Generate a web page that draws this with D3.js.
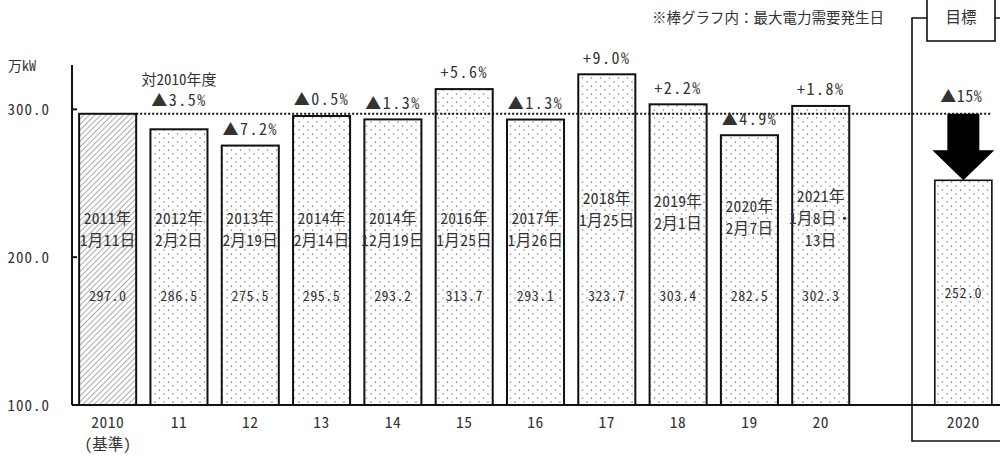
<!DOCTYPE html>
<html><head><meta charset="utf-8">
<script src="https://cdn.jsdelivr.net/npm/d3@7"></script>
<style>
html,body{margin:0;padding:0;background:#fff;}
svg text{font-family:"Noto Sans Mono CJK JP","Noto Sans CJK JP",sans-serif;fill:#333;}
</style></head>
<body>
<svg id="c" width="1000" height="457"></svg>
<script>
// ---- data ----
const categories = ["2010","11","12","13","14","15","16","17","18","19","20"];
const values = [297.0,286.5,275.5,295.5,293.2,313.7,293.1,323.7,303.4,282.5,302.3];
const changeLabels = ["","▲3.5%","▲7.2%","▲0.5%","▲1.3%","+5.6%","▲1.3%","+9.0%","+2.2%","▲4.9%","+1.8%"];
const peakDates = [
  ["2011年","1月11日"],["2012年","2月2日"],["2013年","2月19日"],["2014年","2月14日"],
  ["2014年","12月19日"],["2016年","1月25日"],["2017年","1月26日"],["2018年","1月25日"],
  ["2019年","2月1日"],["2020年","2月7日"],["2021年","1月8日・","13日"]
];
const targetCategory = "2020";
const targetValue = 252.0;
const targetChange = "▲15%";
const baseValue = 297.0;
const yTicks = [100, 200, 300];

// ---- layout ----
const svg = d3.select("#c");
const slots = categories.map((c,i)=>"k"+i).concat(["gap","target"]);
const x = d3.scaleBand().domain(slots).range([72, 999]).paddingInner(0.2).paddingOuter(0.1);
const y = d3.scaleLinear().domain([100, 330]).range([405, 65]);

const defs = svg.append("defs");
const dots = defs.append("pattern").attr("id","dots").attr("patternUnits","userSpaceOnUse")
  .attr("width",9).attr("height",8);
dots.append("rect").attr("width",9).attr("height",8).attr("fill","#fff");
dots.append("circle").attr("cx",2).attr("cy",2).attr("r",0.75).attr("fill","#777");
dots.append("circle").attr("cx",6.5).attr("cy",6).attr("r",0.75).attr("fill","#777");
const hatch = defs.append("pattern").attr("id","hatch").attr("patternUnits","userSpaceOnUse")
  .attr("width",4).attr("height",4).attr("patternTransform","rotate(45)");
hatch.append("rect").attr("width",4).attr("height",4).attr("fill","#fff");
hatch.append("line").attr("x1",0).attr("y1",0).attr("x2",0).attr("y2",4).attr("stroke","#666").attr("stroke-width",1.1);

// bars
const barData = categories.map((c,i)=>({key:"k"+i, cat:c, v:values[i], ch:changeLabels[i], dates:peakDates[i], i}));
svg.selectAll("rect.bar").data(barData).join("rect").attr("class","bar")
  .attr("x",d=>x(d.key)).attr("width",x.bandwidth())
  .attr("y",d=>y(d.v)).attr("height",d=>y(100)-y(d.v))
  .attr("fill",d=>d.i===0?"url(#hatch)":"url(#dots)")
  .attr("stroke","#111").attr("stroke-width",2);

// target bar
svg.append("rect").attr("x",x("target")).attr("width",x.bandwidth())
  .attr("y",y(targetValue)).attr("height",y(100)-y(targetValue))
  .attr("fill","url(#dots)").attr("stroke","#111").attr("stroke-width",1.6);

// base dotted line
svg.append("line").attr("x1",x("k0")+x.bandwidth()).attr("x2",992)
  .attr("y1",y(baseValue)).attr("y2",y(baseValue))
  .attr("stroke","#111").attr("stroke-width",2).attr("stroke-dasharray","2,2");

// axes
const yAxis = svg.append("g").attr("transform","translate(72,0)");
yAxis.append("line").attr("x1",0).attr("x2",0).attr("y1",65).attr("y2",y(100)).attr("stroke","#111").attr("stroke-width",2);
yAxis.selectAll("line.t").data(yTicks).join("line").attr("class","t")
  .attr("x1",0).attr("x2",5).attr("y1",d=>y(d)).attr("y2",d=>y(d)).attr("stroke","#111").attr("stroke-width",2);
yAxis.selectAll("text").data(yTicks).join("text")
  .attr("x",-22).attr("y",d=>y(d)+2).attr("text-anchor","end").attr("dominant-baseline","middle")
  .attr("font-size",15).attr("letter-spacing",1).text(d=>d3.format(".1f")(d));
svg.append("text").attr("x",8).attr("y",67).attr("dominant-baseline","middle").attr("font-size",14).text("万kW");

svg.append("line").attr("x1",72).attr("x2",1000).attr("y1",y(100)).attr("y2",y(100)).attr("stroke","#111").attr("stroke-width",2);

// x labels
svg.selectAll("text.xl").data(barData).join("text").attr("class","xl")
  .attr("x",d=>x(d.key)+x.bandwidth()/2).attr("y",424).attr("text-anchor","middle")
  .attr("dominant-baseline","middle").attr("font-size",15.5).attr("letter-spacing",0.5).text(d=>d.cat);
svg.append("text").attr("x",x("k0")+x.bandwidth()/2).attr("y",446).attr("text-anchor","middle")
  .attr("dominant-baseline","middle").attr("font-size",15.5).text("(基準)");
svg.append("text").attr("x",x("target")+x.bandwidth()/2).attr("y",424).attr("text-anchor","middle")
  .attr("dominant-baseline","middle").attr("font-size",15.5).attr("letter-spacing",0.5).text(targetCategory);

// change labels
svg.selectAll("text.ch").data(barData.filter(d=>d.ch)).join("text").attr("class","ch")
  .attr("x",d=>x(d.key)+x.bandwidth()/2)
  .attr("y",d=>d.i===1?102:y(d.v)-15)
  .attr("text-anchor","middle").attr("dominant-baseline","middle")
  .attr("font-size",16).attr("letter-spacing",1.5).text(d=>d.ch);
svg.append("text").attr("x",x("k1")+x.bandwidth()/2).attr("y",81).attr("text-anchor","middle")
  .attr("dominant-baseline","middle").attr("font-size",15).text("対2010年度");

// date labels (first-line y per bar, layout only)
const dateTop = [220,220,220,220,220,220,220,200,203,208,198];
barData.forEach(d=>{
  d.dates.forEach((t,j)=>{
    svg.append("text").attr("x",x(d.key)+x.bandwidth()/2).attr("y",dateTop[d.i]+j*22)
      .attr("text-anchor","middle").attr("dominant-baseline","middle")
      .attr("font-size",15.5).attr("letter-spacing",0.3).text(t);
  });
});

// value labels
svg.selectAll("text.v").data(barData).join("text").attr("class","v")
  .attr("x",d=>x(d.key)+x.bandwidth()/2).attr("y",297).attr("text-anchor","middle")
  .attr("dominant-baseline","middle").attr("font-size",14).attr("letter-spacing",0.5)
  .text(d=>d3.format(".1f")(d.v));
svg.append("text").attr("x",x("target")+x.bandwidth()/2).attr("y",294).attr("text-anchor","middle")
  .attr("dominant-baseline","middle").attr("font-size",14).attr("letter-spacing",0.5)
  .text(d3.format(".1f")(targetValue));

// target arrow
const cx = x("target")+x.bandwidth()/2;
const yTop = y(baseValue), yTip = y(targetValue);
svg.append("path").attr("fill","#000")
  .attr("d",`M${cx-16},${yTop} L${cx+16},${yTop} L${cx+16},${yTip-30} L${cx+31},${yTip-30} L${cx},${yTip} L${cx-31},${yTip-30} L${cx-16},${yTip-30} Z`);
svg.append("text").attr("x",cx-2).attr("y",98).attr("text-anchor","middle")
  .attr("dominant-baseline","middle").attr("font-size",16).attr("letter-spacing",0.5).text(targetChange);

// target frame
svg.append("path").attr("fill","none").attr("stroke","#111").attr("stroke-width",1.6)
  .attr("d","M1001,441 L912,441 L912,18 L927,18 M995,18 L1001,18");
svg.append("rect").attr("x",927).attr("y",-3).attr("width",68).attr("height",44)
  .attr("fill","#fff").attr("stroke","#111").attr("stroke-width",1.6);
svg.append("text").attr("x",961).attr("y",19).attr("text-anchor","middle")
  .attr("dominant-baseline","middle").attr("font-size",15.5).text("目標");

// note
svg.append("text").attr("x",652).attr("y",19).attr("dominant-baseline","middle")
  .attr("font-size",14.5).text("※棒グラフ内：最大電力需要発生日");
</script>
</body></html>
